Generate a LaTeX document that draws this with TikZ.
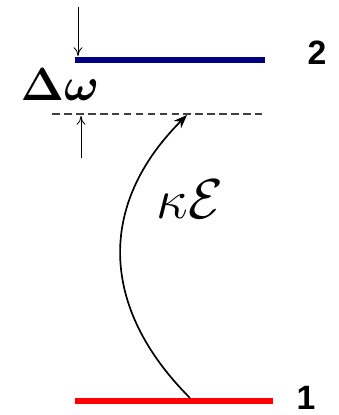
\RequirePackage{fix-cm}
\documentclass[tikz,border=0pt]{standalone}
\usepackage{amsmath,amssymb}
\usepackage{fontspec}
\setsansfont{Liberation Sans}
\usepackage{tikz}
\usetikzlibrary{arrows.meta}
\tikzset{
upper/.style={line width=4pt,blue!50!black},
lower/.style={line width=4pt,red},
virt/.style={line width=2pt,black!75,dash pattern=on 5.5pt off 3pt},
gap/.style={-{To[length=2.2mm,width=2.2mm]},line width=0.6pt},
drive/.style={-{Stealth[length=3.4mm,width=2.6mm]},line width=1.2pt},
lvl/.style={font=\sffamily\bfseries\fontsize{24}{28}\selectfont,inner sep=0pt},
sym/.style={font=\fontsize{33}{38}\selectfont,inner sep=0pt}
}

\begin{document}
\begin{tikzpicture}[x=0.025cm,y=-0.025cm]
\useasboundingbox (0,0) rectangle (339,415);
% levels
\coordinate (u1) at (75,60);
\coordinate (u2) at (265,60);
\coordinate (d1) at (52,114);
\coordinate (d2) at (262,114);
\coordinate (g1) at (75,401);
\coordinate (g2) at (273,401);
\draw[upper] (u1) -- (u2);
\draw[virt] (d1) -- (d2);
\draw[lower] (g1) -- (g2);
\node[lvl] (two) at (317,53) {2};
\node[lvl] (one) at (306,398) {1};
% detuning
\node[sym] (dw) at (60,85) {$\boldsymbol{\Delta\omega}$};
\coordinate (ta) at (78,7);
\coordinate (tb) at (78,56);
\coordinate (ba) at (81,158);
\coordinate (bb) at (81,116);
\draw[gap] (ta) -- (tb);
\draw[gap] (ba) -- (bb);
% pump
\node[sym,font=\fontsize{40}{46}\selectfont] (ke) at (190,199) {$\kappa\mathcal{E}$};
\coordinate (pa) at (190,398);
\coordinate (pb) at (187,115);
\draw[drive] (pa) to[out=135,in=225,looseness=1.15] (pb);
\end{tikzpicture}
\end{document}
